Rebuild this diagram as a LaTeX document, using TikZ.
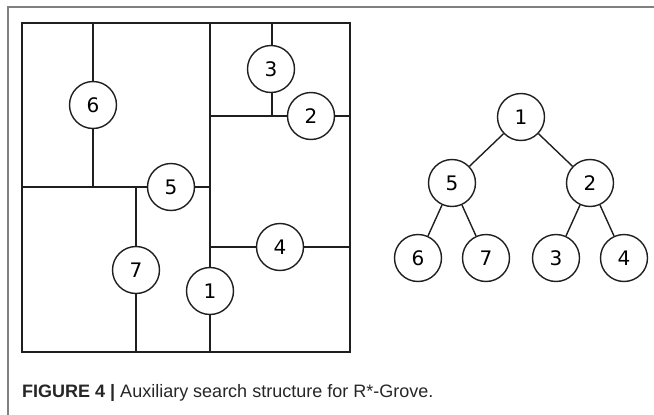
\documentclass[tikz,border=0pt]{standalone}
\usepackage{fontspec}
\setmainfont{DejaVu Sans}
\newfontfamily\capfont{Liberation Sans}
\tikzset{
  c/.style={circle,draw=black!88,line width=1.4pt,fill=white,minimum size=47pt,inner sep=0pt,font=\fontsize{20}{20}\selectfont},
  ln/.style={draw=black!88,line width=1.4pt},
  fr/.style={draw=black!50,line width=1.6pt}
}
\begin{document}
\begin{tikzpicture}[x=1pt,y=-1pt]
\useasboundingbox (0,0) rectangle (654,415);
% frame
\draw[fr] (8,415) -- (8,7) -- (654,7);
% partition
\coordinate (tl) at (22,23);
\coordinate (br) at (350,352);
\coordinate (mt) at (210,23);
\coordinate (mb) at (210,352);
\coordinate (l5) at (22,187);
\coordinate (r5) at (210,187);
\coordinate (t6) at (93,23);
\coordinate (b6) at (93,187);
\coordinate (t7) at (136,187);
\coordinate (b7) at (136,352);
\coordinate (t3) at (272,23);
\coordinate (b3) at (272,116);
\coordinate (l2) at (210,116);
\coordinate (r2) at (350,116);
\coordinate (l4) at (210,247);
\coordinate (r4) at (350,247);
\draw[ln] (tl) rectangle (br);
\draw[ln] (mt) -- (mb);
\draw[ln] (l5) -- (r5);
\draw[ln] (t6) -- (b6);
\draw[ln] (t7) -- (b7);
\draw[ln] (t3) -- (b3);
\draw[ln] (l2) -- (r2);
\draw[ln] (l4) -- (r4);
\node[c] (p6) at (93,105) {6};
\node[c] (p3) at (271,69) {3};
\node[c] (p2) at (311,116) {2};
\node[c] (p5) at (171,187) {5};
\node[c] (p7) at (136,270) {7};
\node[c] (p1) at (210,291) {1};
\node[c] (p4) at (280,247) {4};
% tree
\node[c] (t1) at (521,117) {1};
\node[c] (t5) at (452,183) {5};
\node[c] (t2) at (590,183) {2};
\node[c] (n6) at (418,258) {6};
\node[c] (n7) at (486,258) {7};
\node[c] (n3) at (556,258) {3};
\node[c] (n4) at (624,258) {4};
\draw[ln] (t1) -- (t5);
\draw[ln] (t1) -- (t2);
\draw[ln] (t5) -- (n6);
\draw[ln] (t5) -- (n7);
\draw[ln] (t2) -- (n3);
\draw[ln] (t2) -- (n4);
% caption
\node[anchor=base west,inner sep=0pt,font=\capfont\fontsize{18}{18}\selectfont,text=black!85] (cap) at (22,397) {\textbf{FIGURE 4 |} Auxiliary search structure for R*-Grove.};
\end{tikzpicture}
\end{document}
